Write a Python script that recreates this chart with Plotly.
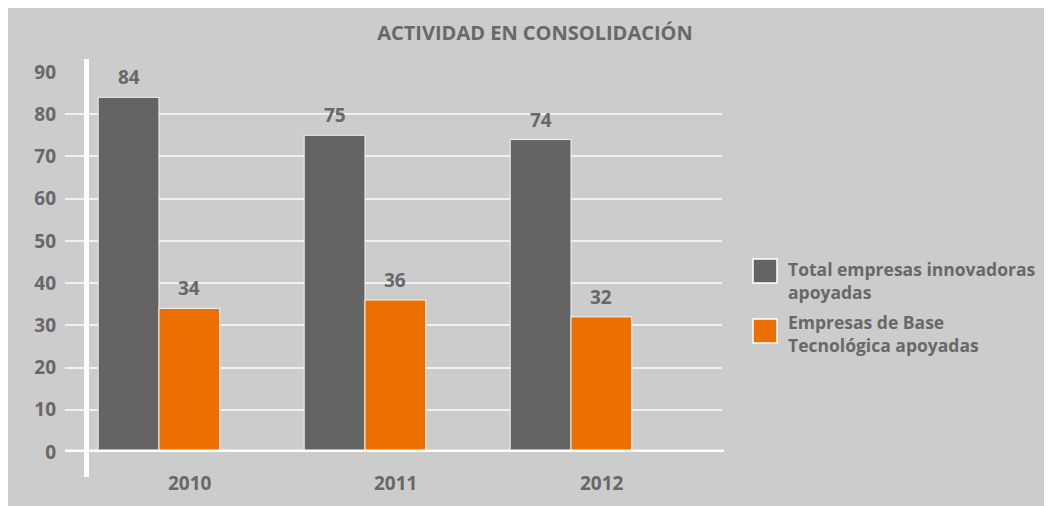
import plotly.graph_objects as go

years = ["2010", "2011", "2012"]
series_names = ["Total empresas innovadoras<br>apoyadas", "Empresas de Base<br>Tecnológica apoyadas"]
total_innovadoras = [84, 75, 74]
base_tecnologica = [34, 36, 32]
y_ticks = [0, 10, 20, 30, 40, 50, 60, 70, 80, 90]
title_text = "ACTIVIDAD EN CONSOLIDACIÓN"

GRAY_BAR = "#646464"
ORANGE = "#ec6f00"
BG = "#cccccc"
TXT = "#686868"
FONT = "Open Sans"

# plot-area geometry in figure pixels
L, T, PW, PH = 57, 64, 657, 380
W, H = 1052, 506

def px(xf):
    return (xf - L) / PW

def py(yf):
    return (T + PH - yf) / PH

fig = go.Figure()
series = [(series_names[0], total_innovadoras, GRAY_BAR, -1),
          (series_names[1], base_tecnologica, ORANGE, 1)]
BARGAP = 0.41
cat_px = PW / (2.733 + 0.456)
half_bar = cat_px * (1 - BARGAP) / 4

for name, vals, col, side in series:
    fig.add_trace(go.Bar(
        x=years, y=vals, name=name,
        marker=dict(color=col, line=dict(color="#f2f2f2", width=1)),
        showlegend=False,
    ))
    for i, v in enumerate(vals):
        fig.add_annotation(x=i, y=v, xref="x", yref="y", text=str(v),
                           showarrow=False, xshift=side * half_bar, yshift=20,
                           font=dict(family=FONT, size=19, color=TXT, weight="bold"))

# year labels (offset to the right as in the reference)
for i, yr in enumerate(years):
    fig.add_annotation(x=i, y=0, xref="x", yref="y", text=yr,
                       showarrow=False, xshift=31, yshift=-31,
                       font=dict(family=FONT, size=19, color=TXT, weight="bold"))

# manual legend
leg_cols = [GRAY_BAR, ORANGE]
sq_centers = [263, 323]
txt_centers = [272, 325]
for name, col, yc, yt in zip(series_names, leg_cols, sq_centers, txt_centers):
    fig.add_shape(type="rect", xref="paper", yref="paper",
                  x0=px(745), x1=px(769),
                  y0=py(yc + 12), y1=py(yc - 12),
                  fillcolor=col, line=dict(color="white", width=1.5))
    fig.add_annotation(xref="paper", yref="paper", x=px(778), y=py(yt),
                       xanchor="left", yanchor="middle", align="left",
                       showarrow=False, text=name,
                       font=dict(family=FONT, size=17.5, color=TXT, weight="bold"))

# vertical white axis line
fig.add_shape(type="line", xref="paper", yref="paper", layer="above",
              x0=px(78.5), x1=px(78.5), y0=py(469), y1=py(51),
              line=dict(color="white", width=5))
# zero line
fig.add_shape(type="line", xref="paper", yref="y", layer="above",
              x0=0, x1=px(716), y0=0, y1=0,
              line=dict(color="white", width=5))

fig.update_layout(
    width=W, height=H,
    margin=dict(l=L, r=W - L - PW, t=T, b=H - T - PH),
    paper_bgcolor=BG, plot_bgcolor=BG,
    barmode="group", bargap=BARGAP, bargroupgap=0.0,
    title=dict(text=title_text, x=527 / W, xanchor="center",
               y=1 - 25 / H, yanchor="middle",
               font=dict(family=FONT, size=20, color=TXT, weight="bold")),
    xaxis=dict(type="category", range=[-0.456, 2.733], showticklabels=False,
               showgrid=False, zeroline=False, showline=False, ticks=""),
    yaxis=dict(range=[0, 90], tickvals=y_ticks, showgrid=True,
               gridcolor="#f0f0f0", gridwidth=1.5, zeroline=False,
               showline=False, ticks="", ticklabelstandoff=8,
               tickfont=dict(family=FONT, size=19, color=TXT, weight="bold")),
    font=dict(family=FONT, color=TXT),
)

fig.write_html("out.html")
